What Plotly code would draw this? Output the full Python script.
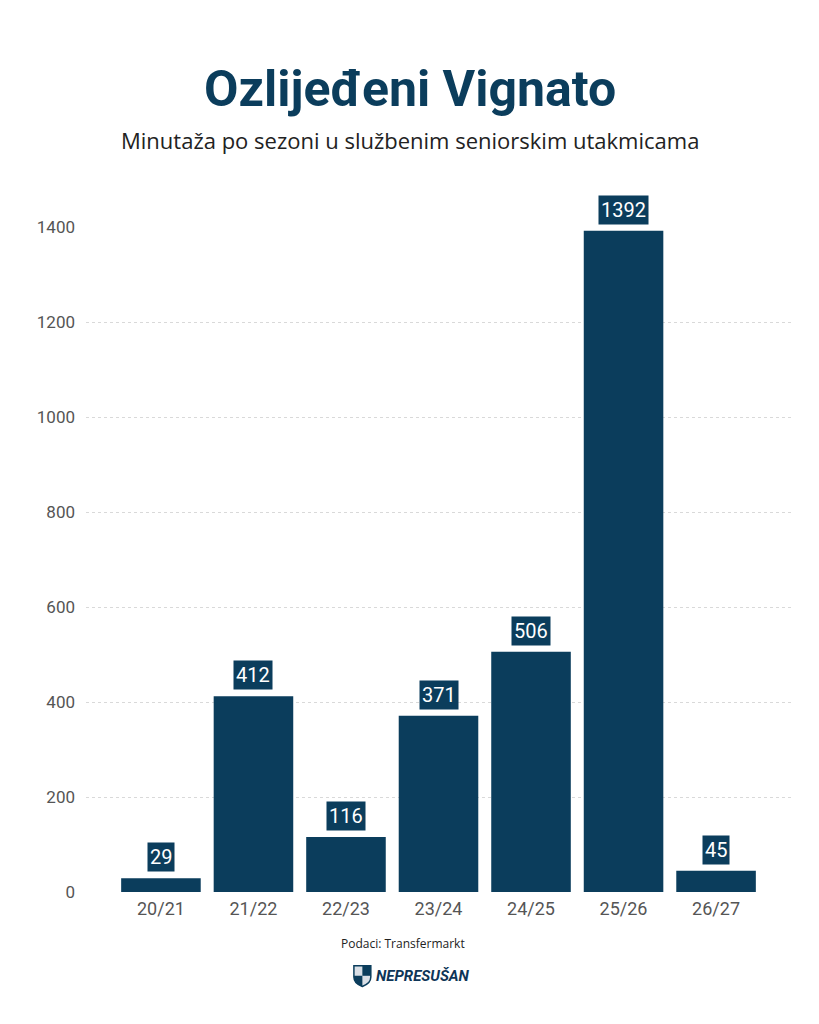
import plotly.graph_objects as go

# data
seasons = ['20/21', '21/22', '22/23', '23/24', '24/25', '25/26', '26/27']
minutes = [29, 412, 116, 371, 506, 1392, 45]
y_ticks = [0, 200, 400, 600, 800, 1000, 1200, 1400]

navy = '#0b3d5c'
cond = 'Roboto, sans-serif'

bars = go.Bar(
    x=seasons,
    y=minutes,
    marker=dict(color=navy, line=dict(width=0)),
    width=0.86,
    hoverinfo='x+y',
    cliponaxis=False,
)

fig = go.Figure(data=[bars])

# value boxes above each bar
for s, m in zip(seasons, minutes):
    fig.add_annotation(
        x=s, y=m, text=str(m),
        xref='x', yref='y',
        yanchor='bottom', yshift=6,
        showarrow=False,
        bgcolor=navy, borderpad=2,
        font=dict(family='Roboto, sans-serif', size=20, color='white'),
    )

# title + subtitle
fig.add_annotation(
    text='<b>Ozlijeđeni Vignato</b>', xref='paper', yref='paper',
    x=0.459, y=1.207, xanchor='center', yanchor='middle', showarrow=False,
    font=dict(family=cond, size=50, color=navy),
)
fig.add_annotation(
    text='Minutaža po sezoni u službenim seniorskim utakmicama',
    xref='paper', yref='paper',
    x=0.459, y=1.131, xanchor='center', yanchor='middle', showarrow=False,
    font=dict(family='Open Sans, sans-serif', size=22, color='#222'),
)

# footer
fig.add_annotation(
    text='Podaci: Transfermarkt', xref='paper', yref='paper',
    x=0.45, y=-0.078, xanchor='center', yanchor='middle', showarrow=False,
    font=dict(family='Open Sans, sans-serif', size=12, color='#222'),
)
fig.add_annotation(
    text='<b><i>NEPRESUŠAN</i></b>', xref='paper', yref='paper',
    x=0.478, y=-0.126, xanchor='center', yanchor='middle', showarrow=False,
    font=dict(family='Roboto, sans-serif', size=15, color='#0e3557'),
)
# small shield logo next to the wordmark
fig.add_shape(
    type='path', xref='paper', yref='paper',
    path='M 0.380,-0.111 L 0.404,-0.111 L 0.404,-0.128 '
         'Q 0.404,-0.138 0.392,-0.142 Q 0.380,-0.138 0.380,-0.128 Z',
    fillcolor='#d9dfe6', line=dict(color=navy, width=1.5),
)
fig.add_shape(
    type='path', xref='paper', yref='paper',
    path='M 0.392,-0.111 L 0.404,-0.111 L 0.404,-0.126 L 0.392,-0.126 Z',
    fillcolor=navy, line=dict(width=0),
)
fig.add_shape(
    type='path', xref='paper', yref='paper',
    path='M 0.380,-0.126 L 0.392,-0.126 L 0.392,-0.142 '
         'Q 0.380,-0.138 0.380,-0.128 Z',
    fillcolor=navy, line=dict(width=0),
)

fig.update_layout(
    width=819,
    height=1024,
    paper_bgcolor='white',
    plot_bgcolor='white',
    margin=dict(l=78, r=36, t=219, b=140),
    showlegend=False,
    xaxis=dict(
        range=[-0.81, 6.81],
        showgrid=False, showline=False, zeroline=False,
        ticks='', ticklabelstandoff=4,
        tickfont=dict(family=cond, size=18, color='#555'),
    ),
    yaxis=dict(
        range=[0, 1400],
        tickvals=y_ticks,
        showgrid=True, gridcolor='#d9d9d9', griddash='dot', gridwidth=1,
        zeroline=False, showline=False, ticks='',
        ticklabelstandoff=10,
        tickfont=dict(family=cond, size=17, color='#555'),
    ),
)

fig.write_html('out.html')
